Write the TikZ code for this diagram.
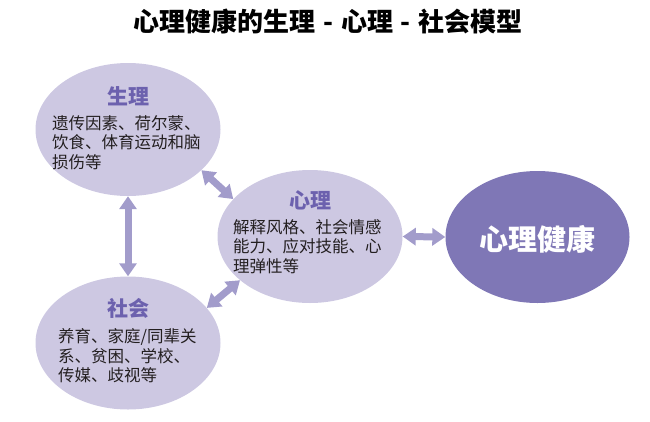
\documentclass[tikz,border=0pt]{standalone}
\usepackage{fontspec}
\usepackage{tikz}
\newfontfamily\cjk{Noto Sans CJK SC}
\definecolor{bpsLight}{HTML}{CDC8E2}
\definecolor{bpsDark}{HTML}{7F77B6}
\definecolor{bpsArrow}{HTML}{A29CCB}
\definecolor{bpsHead}{HTML}{6C61AE}
\definecolor{bpsText}{HTML}{231F20}
\usetikzlibrary{positioning,shapes.geometric,arrows.meta}

\begin{document}
\begin{tikzpicture}[x=1pt,y=-1pt,font=\cjk,
  oval/.style={ellipse,fill=bpsLight,minimum width=185pt,minimum height=133pt,inner sep=0pt},
  head/.style={text=bpsHead,font=\cjk\bfseries\fontsize{21}{24}\selectfont,inner sep=0pt},
  body/.style={text=bpsText,align=left,anchor=west,font=\cjk\fontsize{16.5}{19.6}\selectfont,inner sep=0pt},
  link/.style={draw=bpsArrow,line width=7pt,{Triangle[width=17pt,length=13pt]}-{Triangle[width=17pt,length=13pt]}}]
\useasboundingbox (0,0) rectangle (650,421);
\node[text=black,font=\cjk\bfseries\fontsize{26}{30}\selectfont] (title) at (328,22) {心理健康的生理\hspace{0.3em}-\hspace{0.3em}心理\hspace{0.3em}-\hspace{0.3em}社会模型};
% ellipses
\node[oval] (sheng) at (128,129.5) {};
\node[oval] (shehui) at (128,343) {};
\node[oval] (xin) at (310,236.5) {};
\node[oval,fill=bpsDark,minimum width=184pt,minimum height=132pt] (health) at (537.5,237) {};
% texts
\node[head] (shengT) at (128,96) {生理};
\node[body] (shengB) at (52,142.5) {遗传因素、荷尔蒙、\\饮食、体育运动和脑\\损伤等};
\node[head] (xinT) at (310,200) {心理};
\node[body] (xinB) at (233,246.5) {解释风格、社会情感\\能力、应对技能、心\\理弹性等};
\node[head] (shehuiT) at (128,308) {社会};
\node[body] (shehuiB) at (58,356) {养育、家庭/同辈关\\系、贫困、学校、\\传媒、歧视等};
\node[text=white,font=\cjk\bfseries\fontsize{29}{32}\selectfont] (healthT) at (537.5,239) {心理健康};
% arrows
\draw[link] (sheng.south)--(shehui.north);\draw[link] (sheng.-29)--(xin.154);
\draw[link] (xin.212)--(shehui.24);\draw[link] (xin.east)--(health.west);
\end{tikzpicture}
\end{document}
